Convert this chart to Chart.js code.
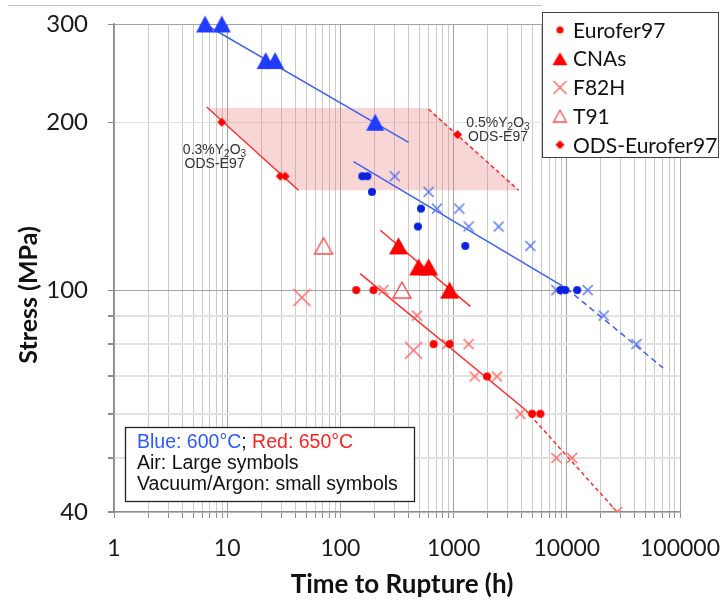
<!DOCTYPE html>
<html>
<head>
<meta charset="utf-8">
<script src="https://cdn.jsdelivr.net/npm/chart.js@4.4.1/dist/chart.umd.min.js"></script>
<style>
  html, body { margin: 0; padding: 0; background: #fff; }
  #wrap { width: 724px; height: 602px; }
</style>
</head>
<body>
<div id="wrap"><canvas id="chart" width="724" height="602"></canvas></div>
<script>
// time to rupture (h) and stress (MPa) for each material, 600 °C (blue) and 650 °C (red)
const blueCnaTime    = [6.38, 8.96, 21.9, 26.5, 203];
const blueCnaStress  = [300, 300, 258, 258, 200];
const blueEuroTime   = [156, 173, 190, 484, 515, 1268, 8770, 9720, 12340];
const blueEuroStress = [160, 160, 150, 130, 140, 120, 100, 100, 100];
const blueF82hTime   = [302, 601, 713, 1122, 1358, 2500, 4765, 8090, 15300, 21200, 41200];
const blueF82hStress = [160, 150, 140, 140, 130, 130, 120, 100, 100, 90, 80];

const redCnaTime       = [326, 491, 601, 922];
const redCnaStress     = [120, 110, 110, 100];
const redEuroTime      = [138, 196, 666, 922, 1973, 4935, 5845];
const redEuroStress    = [100, 100, 80, 80, 70, 60, 60];
const redF82hAirTime   = [45.7, 443];
const redF82hAirStress = [97, 78];
const redF82hTime      = [240, 475, 875, 1358, 1535, 2420, 3890, 8090, 11140, 27860];
const redF82hStress    = [100, 90, 80, 80, 70, 70, 60, 50, 50, 40];
const redT91Time       = [71, 350];
const redT91Stress     = [120, 100];
const redOdsTime       = [8.96, 29.4, 32.5, 1084];
const redOdsStress     = [200, 160, 160, 190];

// trend lines, start and end points
const blueCnaFitTime = [6.3, 400];     const blueCnaFitStress = [300, 184];
const blueFitTime    = [130.6, 9920];  const blueFitStress    = [170, 100.7];
const blueExtTime    = [9920, 71000];  const blueExtStress    = [100.7, 72.5];
const redCnaFitTime  = [225, 1406];    const redCnaFitStress  = [128, 93.5];
const redFitTime     = [149.6, 4305];  const redFitStress     = [107, 61];
const redExtTime     = [4305, 27860];  const redExtStress     = [61, 40];
const ods03FitTime   = [6.6, 42.6];    const ods03FitStress   = [213, 151];
const ods05FitTime   = [601, 3758];    const ods05FitStress   = [211, 151];
// shaded ODS band between the two Y2O3 fits
const bandTime   = [7.06, 601, 3758, 42.6];
const bandStress = [212, 212, 151, 151];

// axes
const xDecades   = [1, 10, 100, 1000, 10000];
const xSteps     = [1, 2, 3, 4, 5, 6, 7, 8, 9];
const xLabelled  = [1, 10, 100, 1000, 10000, 100000];
const yTicks     = [40, 50, 60, 70, 80, 90, 100, 200, 300];
const yLabelled  = [40, 100, 200, 300];
const yMajor     = [100, 300];
const legendNames = ['Eurofer97', 'CNAs', 'F82H', 'T91', 'ODS-Eurofer97'];

const xTicks = [];
xDecades.forEach(d => xSteps.forEach(s => xTicks.push(d * s)));
xTicks.push(100000);

const pts = (xs, ys) => xs.map((x, i) => ({ x: x, y: ys[i] }));

// marker bitmaps, centred on the point like the spreadsheet symbols
function marker(kind, w, h, color, lw) {
  const c = document.createElement('canvas');
  c.width = Math.ceil(w + 4); c.height = Math.ceil(h + 4);
  const g = c.getContext('2d');
  g.translate(c.width / 2, c.height / 2);
  g.fillStyle = color; g.strokeStyle = color; g.lineWidth = lw || 1;
  g.beginPath();
  if (kind === 'dot') {
    g.arc(0, 0, w / 2, 0, Math.PI * 2); g.fill();
  } else if (kind === 'tri' || kind === 'otri') {
    g.moveTo(0, -h / 2); g.lineTo(w / 2, h / 2); g.lineTo(-w / 2, h / 2); g.closePath();
    if (kind === 'tri') g.fill(); else g.stroke();
  } else if (kind === 'x') {
    g.moveTo(-w / 2, -h / 2); g.lineTo(w / 2, h / 2);
    g.moveTo(w / 2, -h / 2); g.lineTo(-w / 2, h / 2); g.stroke();
  } else if (kind === 'diamond') {
    g.moveTo(0, -h / 2); g.lineTo(w / 2, 0); g.lineTo(0, h / 2); g.lineTo(-w / 2, 0); g.closePath(); g.fill();
  }
  return c;
}

const BLUE_TRI = '#1f3cff', BLUE_DOT = '#0a22e0', BLUE_X = '#5877f2', BLUE_LINE = '#3d5ff2';
const RED = '#ff0000', RED_X = '#ff6b6b', RED_T91 = '#ff4a4a', RED_LINE = '#ff2b2b';

const mk = {
  blueTri:  marker('tri', 18, 17, BLUE_TRI),
  blueDot:  marker('dot', 8, 8, BLUE_DOT),
  blueX:    marker('x', 10, 10, BLUE_X, 1.5),
  redTri:   marker('tri', 19, 17, RED),
  redDot:   marker('dot', 8, 8, RED),
  redX:     marker('x', 10, 10, RED_X, 1.5),
  redXL:    marker('x', 17, 17, RED_X, 1.6),
  redOTri:  marker('otri', 18, 16, RED_T91, 1.4),
  redDia:   marker('diamond', 9, 9, RED),
  // legend glyphs
  lgDot:  marker('dot', 7, 7, RED),
  lgTri:  marker('tri', 15, 13, RED),
  lgX:    marker('x', 13, 13, RED_X, 1.5),
  lgOTri: marker('otri', 13, 12, RED_T91, 1.3),
  lgDia:  marker('diamond', 9, 9, RED)
};

function pointSet(xs, ys, style, extra) {
  return Object.assign({
    data: pts(xs, ys), pointStyle: style, pointRadius: 8, showLine: false, order: 0
  }, extra || {});
}
function lineSet(xs, ys, color, dash) {
  return {
    data: pts(xs, ys), showLine: true, borderColor: color, borderWidth: 1.5,
    borderDash: dash || [], pointRadius: 0, order: 1
  };
}

// boxes, titles and annotations drawn on top of the plot
const overlay = {
  id: 'overlay',
  afterDraw(chart) {
    const ctx = chart.ctx;
    ctx.save();

    // frame line above the plot
    ctx.strokeStyle = '#c4c4c4'; ctx.lineWidth = 1;
    ctx.beginPath(); ctx.moveTo(8, 5.5); ctx.lineTo(542, 5.5); ctx.stroke();

    // axis titles
    ctx.fillStyle = '#111';
    ctx.font = 'bold 26px Lato';
    ctx.textAlign = 'center'; ctx.textBaseline = 'alphabetic';
    ctx.fillText('Time to Rupture (h)', 402, 593);
    ctx.font = 'bold 25px Lato';
    ctx.save();
    ctx.translate(37, 295); ctx.rotate(-Math.PI / 2);
    ctx.fillText('Stress (MPa)', 0, 0);
    ctx.restore();

    // Y2O3 labels for the ODS fits
    const y2o3 = (prefix, cx, base) => {
      const parts = [[prefix + 'Y', 0], ['2', 1], ['O', 0], ['3', 1]];
      const fontOf = sub => sub ? '10px "Liberation Sans"' : '14px "Liberation Sans"';
      let w = 0;
      parts.forEach(p => { ctx.font = fontOf(p[1]); w += ctx.measureText(p[0]).width; });
      let x = cx - w / 2;
      ctx.textAlign = 'left';
      parts.forEach(p => {
        ctx.font = fontOf(p[1]);
        ctx.fillText(p[0], x, base + (p[1] ? 3 : 0));
        x += ctx.measureText(p[0]).width;
      });
      ctx.font = '14px "Liberation Sans"'; ctx.textAlign = 'center';
      ctx.fillText('ODS-E97', cx, base + 14);
    };
    ctx.fillStyle = '#333';
    y2o3('0.3%', 214.5, 154);
    y2o3('0.5%', 498, 127);

    // material legend
    ctx.fillStyle = '#fff'; ctx.strokeStyle = '#444'; ctx.lineWidth = 1;
    ctx.fillRect(542, 12, 176, 145); ctx.strokeRect(542.5, 12.5, 176, 145);
    const glyphs = [mk.lgDot, mk.lgTri, mk.lgX, mk.lgOTri, mk.lgDia];
    ctx.font = '21px Lato'; ctx.fillStyle = '#111';
    ctx.textAlign = 'left'; ctx.textBaseline = 'middle';
    legendNames.forEach((name, i) => {
      const cy = 30 + i * 28.7;
      const g = glyphs[i];
      ctx.drawImage(g, 560 - g.width / 2, cy - g.height / 2);
      ctx.fillText(name, 573, cy + 1);
    });

    // symbol key
    ctx.fillStyle = '#fff'; ctx.strokeStyle = '#222'; ctx.lineWidth = 1.3;
    ctx.fillRect(125, 427, 289, 74); ctx.strokeRect(125.5, 427.5, 289, 74);
    ctx.font = '19.5px "Liberation Sans"'; ctx.textBaseline = 'alphabetic';
    let x = 137;
    [['Blue: 600°C', '#2a5aff'], [';', '#111'], [' Red: 650°C', '#ff2020']].forEach(r => {
      ctx.fillStyle = r[1]; ctx.fillText(r[0], x, 448);
      x += ctx.measureText(r[0]).width;
    });
    ctx.fillStyle = '#111';
    ctx.fillText('Air: Large symbols', 137, 469);
    ctx.fillText('Vacuum/Argon: small symbols', 137, 490);
    ctx.restore();
  }
};

new Chart(document.getElementById('chart'), {
  type: 'scatter',
  data: {
    datasets: [
      pointSet(blueCnaTime, blueCnaStress, mk.blueTri, { clip: false }),
      pointSet(blueEuroTime, blueEuroStress, mk.blueDot),
      pointSet(blueF82hTime, blueF82hStress, mk.blueX, { order: 0.5 }),
      pointSet(redCnaTime, redCnaStress, mk.redTri),
      pointSet(redEuroTime, redEuroStress, mk.redDot),
      pointSet(redF82hTime, redF82hStress, mk.redX, { clip: 0, order: 0.5 }),
      pointSet(redF82hAirTime, redF82hAirStress, mk.redXL, { order: 0.5 }),
      pointSet(redT91Time, redT91Stress, mk.redOTri),
      pointSet(redOdsTime, redOdsStress, mk.redDia),
      lineSet(blueCnaFitTime, blueCnaFitStress, BLUE_LINE),
      lineSet(blueFitTime, blueFitStress, BLUE_LINE),
      lineSet(blueExtTime, blueExtStress, BLUE_LINE, [6, 4]),
      lineSet(redCnaFitTime, redCnaFitStress, RED_LINE),
      lineSet(redFitTime, redFitStress, RED_LINE),
      lineSet(redExtTime, redExtStress, RED_LINE, [4, 3]),
      lineSet(ods03FitTime, ods03FitStress, RED_LINE),
      lineSet(ods05FitTime, ods05FitStress, RED_LINE, [4, 3]),
      {
        data: pts(bandTime, bandStress), showLine: true, borderWidth: 0,
        borderColor: 'rgba(0,0,0,0)', backgroundColor: 'rgba(232,120,120,0.3)',
        fill: 'shape', pointRadius: 0, order: 2
      }
    ]
  },
  options: {
    responsive: false,
    animation: false,
    layout: { padding: { top: 24, right: 44, bottom: 0, left: 0 } },
    plugins: { legend: { display: false }, tooltip: { enabled: false } },
    scales: {
      x: {
        type: 'logarithmic', min: 1, max: 100000,
        afterBuildTicks: s => { s.ticks = xTicks.map(v => ({ value: v })); },
        afterFit: s => { s.height = 90; s.paddingLeft = 0; s.paddingRight = 0; },
        ticks: {
          autoSkip: false, maxRotation: 0, padding: 17,
          font: { family: 'Lato', size: 23 }, color: '#1a1a1a',
          callback: v => xLabelled.includes(v) ? String(v) : ''
        },
        grid: {
          color: c => xLabelled.includes(c.tick && c.tick.value) ? '#a3a3a3' : '#cbcbcb',
          tickColor: '#8c8c8c', tickLength: 6, lineWidth: 1
        },
        border: { display: true, color: '#8c8c8c', width: 1.5 }
      },
      y: {
        type: 'logarithmic', min: 40, max: 300,
        afterBuildTicks: s => { s.ticks = yTicks.map(v => ({ value: v })); },
        afterFit: s => { s.width = 114; s.paddingTop = 0; s.paddingBottom = 0; },
        ticks: {
          autoSkip: false, padding: 20,
          font: { family: 'Lato', size: 24 }, color: '#1a1a1a',
          callback: v => yLabelled.includes(v) ? String(v) : ''
        },
        grid: {
          color: c => yMajor.includes(c.tick && c.tick.value) ? '#a3a3a3' : '#e1e1e1',
          lineWidth: c => (c.tick && c.tick.value < 100) ? 2 : 1,
          tickColor: '#8c8c8c', tickLength: 6
        },
        border: { display: true, color: '#8c8c8c', width: 1.5 }
      }
    }
  },
  plugins: [overlay]
});
</script>
</body>
</html>
